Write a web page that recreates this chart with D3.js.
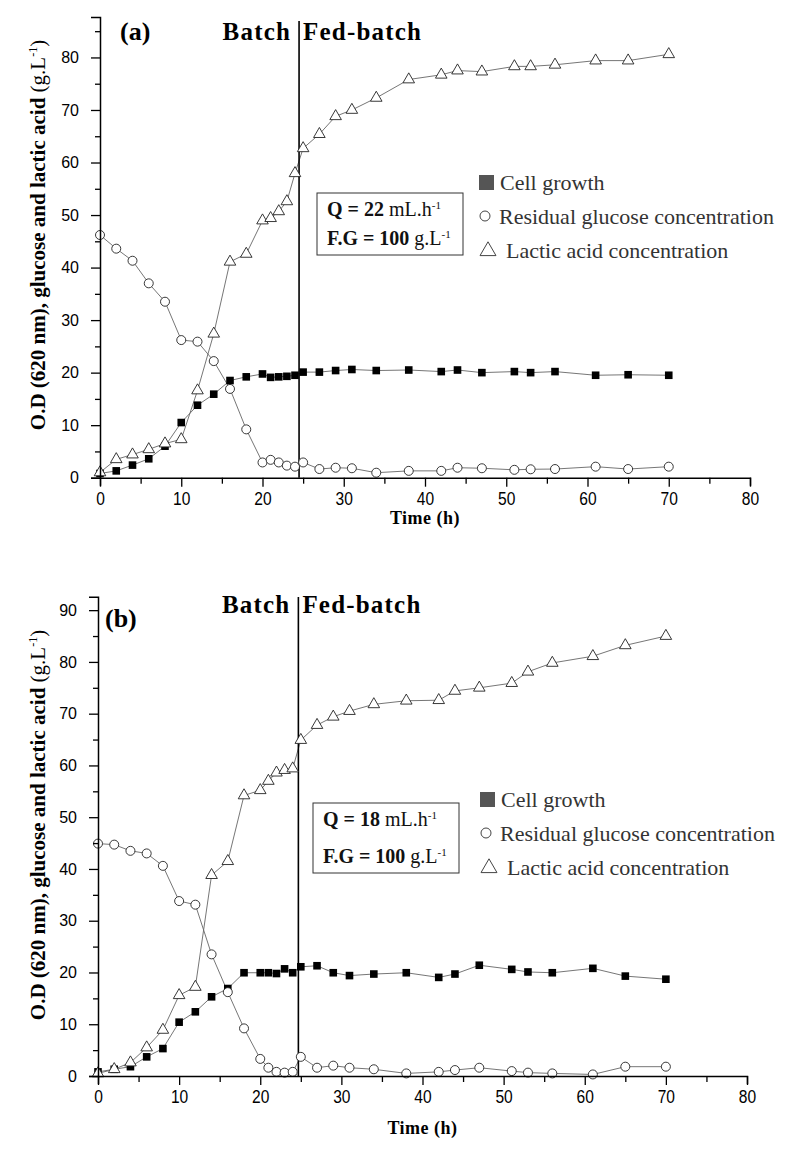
<!DOCTYPE html>
<html><head><meta charset="utf-8">
<script src="https://cdn.jsdelivr.net/npm/d3@7"></script>
<style>body{margin:0;background:#fff}</style>
</head><body><svg id="c" width="787" height="1159"></svg>
<script>
const timeA = [0,2,4,6,8,10,12,14,16,18,20,21,22,23,24,25,27,29,31,34,38,42,44,47,51,53,56,61,65,70];
const cellA = [0.8,1.3,2.4,3.6,6.0,10.5,13.8,15.9,18.5,19.2,19.75,19.1,19.2,19.3,19.5,20.1,20.1,20.4,20.6,20.4,20.5,20.2,20.5,20.0,20.2,20.0,20.2,19.5,19.6,19.5];
const glucoseA = [46.2,43.6,41.3,37.0,33.5,26.2,25.9,22.2,16.9,9.2,2.9,3.4,2.9,2.3,2.1,2.9,1.65,1.9,1.8,0.95,1.3,1.3,1.9,1.8,1.5,1.6,1.65,2.1,1.65,2.1];
const lacticA = [1.0,3.5,4.4,5.4,6.5,7.3,16.6,27.4,41.1,42.6,48.95,49.4,50.7,52.6,57.95,62.7,65.4,68.8,70.0,72.3,75.8,76.7,77.5,77.3,78.3,78.3,78.6,79.4,79.4,80.6];

const timeB = [0,2,4,6,8,10,12,14,16,18,20,21,22,23,24,25,27,29,31,34,38,42,44,47,51,53,56,61,65,70];
const cellB = [0.8,1.3,1.8,3.7,5.3,10.4,12.4,15.3,16.9,19.95,19.95,19.95,19.8,20.7,19.95,21.1,21.3,19.95,19.4,19.7,19.95,19.05,19.7,21.4,20.6,20.1,19.95,20.8,19.3,18.7];
const glucoseB = [44.9,44.7,43.5,43.0,40.6,33.8,33.1,23.5,16.2,9.2,3.3,1.6,0.8,0.65,0.8,3.7,1.6,2.0,1.6,1.3,0.5,0.8,1.15,1.6,0.95,0.65,0.5,0.3,1.8,1.8];
const lacticB = [0.5,1.3,2.6,5.5,8.9,15.6,17.2,38.8,41.5,54.2,55.2,57.0,58.6,59.1,59.4,64.9,67.8,69.4,70.5,71.8,72.5,72.6,74.4,75.0,75.9,78.1,79.8,81.1,83.2,85.0];

const xTicks = [0,5,10,15,20,25,30,35,40,45,50,55,60,65,70,75,80];
const yTicksA = [0,5,10,15,20,25,30,35,40,45,50,55,60,65,70,75,80,85];
const yTicksB = [0,5,10,15,20,25,30,35,40,45,50,55,60,65,70,75,80,85,90];
const legendLabels = ["Cell growth","Residual glucose concentration","Lactic acid concentration"];

const svg = d3.select("#c");
const SERIF = "'Liberation Serif','DejaVu Serif',serif";
const SANS = "'Liberation Sans',Arial,sans-serif";

function panel(o) {
  const x = d3.scaleLinear().domain([0,80]).range([o.x0,o.x1]);
  const y = d3.scaleLinear().domain([0,o.yMax]).range([o.yb,o.yt]);
  const g = svg.append("g");

  const line = d3.line().x((d,i)=>x(o.t[i])).y(d=>y(d));
  [o.cell,o.glu,o.lac].forEach(s=>{
    g.append("path").attr("d",line(s)).attr("fill","none").attr("stroke","#666").attr("stroke-width",0.9);
  });

  g.append("line").attr("x1",x(o.vt)).attr("x2",x(o.vt)).attr("y1",o.vTop).attr("y2",o.yb)
    .attr("stroke","#000").attr("stroke-width",1.6);

  g.selectAll(".sq").data(o.cell).enter().append("rect")
    .attr("x",(d,i)=>x(o.t[i])-3.8).attr("y",d=>y(d)-3.8).attr("width",7.6).attr("height",7.6).attr("fill","#000");
  g.selectAll(".ci").data(o.glu).enter().append("circle")
    .attr("cx",(d,i)=>x(o.t[i])).attr("cy",d=>y(d)).attr("r",4.5)
    .attr("fill","#fff").attr("stroke","#222").attr("stroke-width",0.9);
  const tri = d3.symbol().type(d3.symbolTriangle).size(58);
  g.selectAll(".tr").data(o.lac).enter().append("path")
    .attr("d",tri).attr("transform",(d,i)=>`translate(${x(o.t[i])},${y(d)})`)
    .attr("fill","#fff").attr("stroke","#222").attr("stroke-width",0.9);

  const ax = d3.axisBottom(x).tickValues(xTicks).tickSizeOuter(0).tickSize(8).tickPadding(6);
  const gx = svg.append("g").attr("transform",`translate(0,${o.yb})`).call(ax);
  gx.select(".domain").attr("stroke","#000").attr("stroke-width",1.5);
  gx.selectAll(".tick line").attr("stroke","#000").attr("stroke-width",1.3).attr("y2",d=>d%10===0?9:6);
  gx.selectAll(".tick text").text(d=>d%10===0?d:"").attr("font-family",SANS).attr("font-size",19)
    .attr("transform","scale(0.82,1)").attr("fill","#000");

  const ayA = d3.axisLeft(y).tickValues(o.yTicks).tickSizeOuter(0).tickSize(9).tickPadding(12);
  const gy = svg.append("g").attr("transform",`translate(${o.x0},0)`).call(ayA);
  gy.select(".domain").attr("stroke","#000").attr("stroke-width",1.5);
  gy.selectAll(".tick line").attr("stroke","#000").attr("stroke-width",1.3).attr("x2",d=>d%10===0?-9:-5);
  gy.selectAll(".tick text").text(d=>d%10===0?d:"").attr("font-family",SANS).attr("font-size",16).attr("fill","#000");

  svg.append("text").attr("x",(o.x0+o.x1)/2).attr("y",o.xtY).attr("text-anchor","middle")
    .attr("font-family",SERIF).attr("font-weight","bold").attr("font-size",18).attr("letter-spacing",0.5).text("Time (h)");
  const yt = svg.append("text").attr("transform",`translate(${o.ytX},${o.ytC}) rotate(-90)`)
    .attr("text-anchor","middle").attr("font-family",SERIF).attr("font-size",21);
  yt.append("tspan").attr("font-weight","bold").text("O.D (620 nm), glucose and lactic acid ");
  yt.append("tspan").text("(g.L");
  yt.append("tspan").attr("font-size",12).attr("dy",-8).text("-1");
  yt.append("tspan").attr("dy",8).text(")");

  svg.append("text").attr("x",o.letX).attr("y",o.letY).attr("font-family",SERIF).attr("font-weight","bold")
    .attr("font-size",26).text(o.letter);
  svg.append("text").attr("x",x(o.vt)-8).attr("y",o.phY).attr("text-anchor","end").attr("font-family",SERIF)
    .attr("font-weight","bold").attr("font-size",25).attr("letter-spacing",1.2).text("Batch");
  svg.append("text").attr("x",x(o.vt)+4).attr("y",o.phY).attr("font-family",SERIF)
    .attr("font-weight","bold").attr("font-size",25).attr("letter-spacing",1.2).text("Fed-batch");

  svg.append("rect").attr("x",o.bx).attr("y",o.by).attr("width",o.bw).attr("height",o.bh)
    .attr("fill","#fff").attr("stroke","#333").attr("stroke-width",1);
  const q = svg.append("text").attr("x",o.bx+10).attr("y",o.by+23).attr("font-family",SERIF).attr("font-size",20).attr("fill","#111");
  q.append("tspan").attr("font-weight","bold").text("Q = " + o.q + " ");
  q.append("tspan").text(" mL.h");
  q.append("tspan").attr("font-size",11).attr("dy",-7).text("-1");
  const f = svg.append("text").attr("x",o.bx+10).attr("y",o.by+o.bh-10).attr("font-family",SERIF).attr("font-size",20).attr("fill","#111");
  f.append("tspan").attr("font-weight","bold").text("F.G = 100 ");
  f.append("tspan").text("g.L");
  f.append("tspan").attr("font-size",11).attr("dy",-7).text("-1");

  const lx = o.lx, ly = o.ly, sp = 34;
  svg.append("rect").attr("x",lx).attr("y",ly-15).attr("width",15).attr("height",15).attr("fill","#555");
  svg.append("circle").attr("cx",lx+6).attr("cy",ly+sp-8).attr("r",5).attr("fill","#fff").attr("stroke","#444").attr("stroke-width",1);
  svg.append("path").attr("d",d3.symbol().type(d3.symbolTriangle).size(110))
    .attr("transform",`translate(${lx+9},${ly+2*sp-7})`).attr("fill","#fff").attr("stroke","#444").attr("stroke-width",1);
  const lxs = [lx+21, lx+20, lx+27];
  legendLabels.forEach((t,i)=>{
    svg.append("text").attr("x",lxs[i]).attr("y",ly+i*sp).attr("font-family",SERIF).attr("font-size",22)
      .attr("fill","#333").text(t);
  });
}

panel({t:timeA,cell:cellA,glu:glucoseA,lac:lacticA,x0:100,x1:750,yb:477.7,yt:17,yMax:87.7,yTicks:yTicksA,
  vt:24.5,vTop:21,xtY:524,ytX:45,ytC:235,letter:"(a)",letX:120,letY:40,phY:40,q:"22",
  bx:317,by:193,bw:146,bh:62,lx:479,ly:190});
panel({t:timeB,cell:cellB,glu:glucoseB,lac:lacticB,x0:98,x1:747,yb:1076,yt:596.7,yMax:92.6,yTicks:yTicksB,
  vt:24.7,vTop:597,xtY:1134,ytX:45,ytC:825,letter:"(b)",letX:105,letY:627,phY:613,q:"18",
  bx:313,by:803,bw:146,bh:70,lx:480,ly:807});
</script>
</body></html>
